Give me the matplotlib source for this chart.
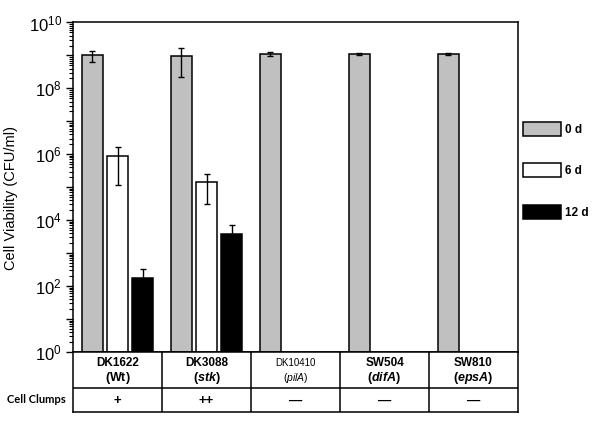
import matplotlib
matplotlib.use('Agg')
import matplotlib.pyplot as plt
from matplotlib.ticker import LogLocator, FuncFormatter, NullFormatter
import numpy as np

plt.rcParams['font.family'] = ['Liberation Sans', 'DejaVu Sans']
plt.rcParams['mathtext.fontset'] = 'custom'
plt.rcParams['mathtext.rm'] = 'Liberation Sans'
plt.rcParams['mathtext.it'] = 'Liberation Sans:italic'
plt.rcParams['mathtext.bf'] = 'Liberation Sans:bold'
plt.rcParams['mathtext.bfit'] = 'Liberation Sans:bold:italic'

# data
strains = ['DK1622', 'DK3088', 'DK10410', 'SW504', 'SW810']
genotypes = ['Wt', 'stk', 'pilA', 'difA', 'epsA']
clumps = ['+', '++', '\u2014', '\u2014', '\u2014']

day0 = [1.0e9, 9.5e8, 1.1e9, 1.1e9, 1.12e9]
day0_err = [3.7e8, 7.3e8, 1.5e8, 8e7, 8e7]
day6 = [8.7e5, 1.4e5]
day6_err = [7.5e5, 1.1e5]
day12 = [1.8e2, 3.9e3]
day12_err = [1.45e2, 3.2e3]

W, H = 602, 423
fig = plt.figure(figsize=(W / 100, H / 100), dpi=100)
x0, x1, ytop, ybot = 73, 518, 22.5, 352
ax = fig.add_axes([x0 / W, 1 - ybot / H, (x1 - x0) / W, (ybot - ytop) / H])

x = np.arange(len(strains))
off = 0.283
bw = 0.24
ekw = dict(ecolor='black', elinewidth=1, capsize=2.3, capthick=1)
b0 = ax.bar(x - off, day0, bw, yerr=day0_err, color='#c0c0c0', edgecolor='black',
            linewidth=1.1, error_kw=ekw, label='0 d')
b6 = ax.bar(x[:2], day6, bw, yerr=day6_err, color='white', edgecolor='black',
            linewidth=1.1, error_kw=ekw, label='6 d')
b12 = ax.bar(x[:2] + off, day12, bw, yerr=day12_err, color='black', edgecolor='black',
             linewidth=1.1, error_kw=ekw, label='12 d')

ax.set_yscale('log')
ax.set_ylim(1, 1e10)
ax.set_xlim(-0.5, len(strains) - 0.5)
ax.yaxis.set_major_locator(LogLocator(base=10, numticks=20))
ax.yaxis.set_minor_locator(LogLocator(base=10, subs=np.arange(2, 10), numticks=20))
ax.yaxis.set_major_formatter(FuncFormatter(
    lambda v, p: r'$10^{%d}$' % round(np.log10(v)) if round(np.log10(v)) % 2 == 0 else ''))
ax.yaxis.set_minor_formatter(NullFormatter())
ax.tick_params(axis='y', which='major', direction='out', length=5, width=1, labelsize=12, pad=3)
ax.tick_params(axis='y', which='minor', direction='out', length=3, width=0.8)
ax.set_xticks([])
for s in ax.spines.values():
    s.set_linewidth(1.1)
ax.set_ylabel('Cell Viability (CFU/ml)', fontsize=10.5)
ax.yaxis.set_label_coords((18 - x0) / (x1 - x0), 0.5 - (198 - (ytop + ybot) / 2) / (ybot - ytop))

# table under the axis
tb = fig.add_axes([x0 / W, 1 - 412 / H, (x1 - x0) / W, (412 - ybot) / H])
tb.set_xlim(-0.5, len(strains) - 0.5)
tb.set_ylim(0, 1)
tb.set_xticks([])
tb.set_yticks([])
for s in tb.spines.values():
    s.set_linewidth(1.1)
row = (412 - 387.7) / (412 - ybot)
tb.axhline(row, color='black', lw=1.1)
for k in range(1, len(strains)):
    tb.axvline(k - 0.5, color='black', lw=1.1)
for i, (st, g, c) in enumerate(zip(strains, genotypes, clumps)):
    small = st == 'DK10410'
    fs = 7 if small else 8.5
    tb.text(i, (412 - 363) / 60, st, ha='center', va='center', fontsize=fs,
            fontweight='normal' if small else 'bold')
    if g == 'Wt':
        lab = r'$\mathbf{(Wt)}$'
    elif small:
        lab = r'$\mathrm{(}\mathit{%s}\mathrm{)}$' % g
    else:
        lab = r'$\mathbf{(}\mathbfit{%s}\mathbf{)}$' % g
    tb.text(i, (412 - 378) / 60, lab, ha='center', va='center', fontsize=fs + 0.5)
    tb.text(i, (412 - 400.5) / 60, c, ha='center', va='center', fontsize=9.5,
            fontweight='bold')
fig.text(36 / W, 1 - 399 / H, 'Cell Clumps', ha='center', va='center',
         fontsize=8, fontweight='bold', family=['Lato', 'DejaVu Sans'])

fig.legend(handles=[b0, b6, b12], labels=['0 d', '6 d', '12 d'],
           loc='upper left', bbox_to_anchor=(515 / W, 1 - 114 / H),
           frameon=False, prop={'weight': 'bold', 'size': 8.5},
           handlelength=3.2, handleheight=1.45, labelspacing=2.3,
           handletextpad=0.3, borderpad=0.2)

fig.savefig('out.png', dpi=100)
